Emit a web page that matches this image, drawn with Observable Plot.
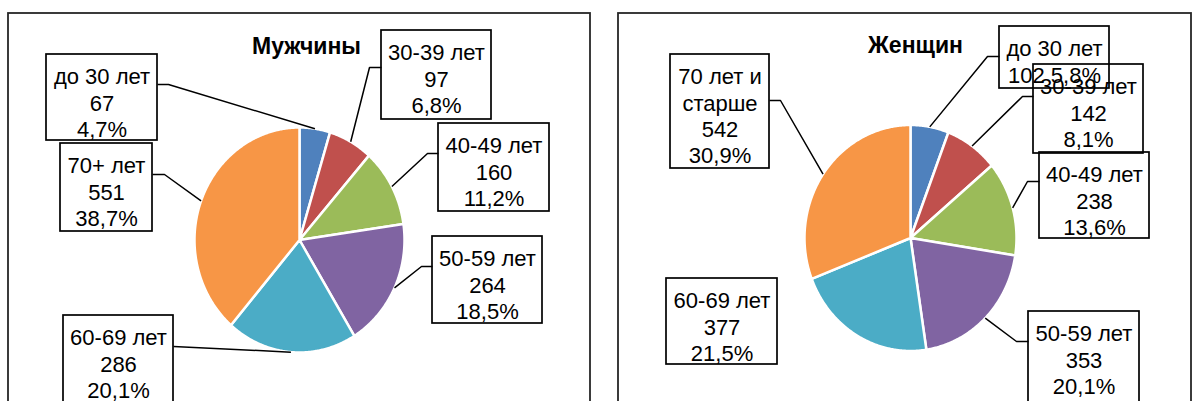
<!DOCTYPE html>
<html>
<head>
<meta charset="utf-8">
<script src="https://cdn.jsdelivr.net/npm/d3@7"></script>
<script src="https://cdn.jsdelivr.net/npm/@observablehq/plot@0.6"></script>
<style>
  html, body { margin: 0; padding: 0; background: #fff; }
  svg { display: block; }
</style>
</head>
<body>
<div id="chart"></div>
<script>
// Age groups and counts of patients, by sex
const menAgeGroups   = ["до 30 лет", "30-39 лет", "40-49 лет", "50-59 лет", "60-69 лет", "70+ лет"];
const womenAgeGroups = ["до 30 лет", "30-39 лет", "40-49 лет", "50-59 лет", "60-69 лет", "70 лет и старше"];
const menCounts   = [67, 97, 160, 264, 286, 551];
const womenCounts = [102, 142, 238, 353, 377, 542];
const panelTitles = ["Мужчины", "Женщин"];
const sliceColors = ["#4F81BD", "#C0504D", "#9BBB59", "#8064A2", "#4BACC6", "#F79646"];

// Layout of each panel: pie ellipse, label boxes [x1, y1, x2, y2],
// leader elbows [elbowX, y, boxSideX] and how each label is stacked
const menLayout = {
  cx: 299, cy: 239.5, rx: 105, ry: 112.5,
  titleX: 306, titleY: 46,
  frame: [8, 13, 590, 430],
  boxes: [[46, 54, 157, 140], [381, 30, 491, 119], [438, 123, 549, 211],
          [432, 236, 542, 323], [63, 315, 173, 420], [60, 143, 152, 231]],
  leaders: [[168, 84, 157], [369, 67, 381], [427, 153, 438],
            [421, 266, 432], [173, 346, 173], [164, 174, 152]],
  compact: [false, false, false, false, false, false]
};
const womenLayout = {
  cx: 910, cy: 237.5, rx: 106, ry: 113,
  titleX: 915, titleY: 45,
  frame: [618, 13, 1191, 430],
  boxes: [[999, 26, 1109, 88], [1033, 64, 1143, 153], [1039, 152, 1149, 238],
          [1028, 311, 1139, 420], [666, 278, 777, 364], [670, 54, 769, 168]],
  leaders: [[987, 56, 999], [1022, 96, 1033], [1027, 181, 1039],
            [1016, 341, 1028], null, [780, 100, 769]],
  compact: [true, false, false, false, false, false]
};

const fmtShare = (v, total) => (v / total * 100).toFixed(1).replace(".", ",") + "%";

// Greedy word wrap for long group names
function wrapName(name, maxChars = 9) {
  const words = name.split(" ");
  const lines = [];
  let cur = "";
  for (const w of words) {
    const next = cur ? cur + " " + w : w;
    if (next.length > maxChars && cur) { lines.push(cur); cur = w; }
    else cur = next;
  }
  if (cur) lines.push(cur);
  return lines.join("\n");
}

const slicePts = [], leaderPts = [], boxes = [], labels = [], titles = [], frames = [];

[[menAgeGroups, menCounts, menLayout], [womenAgeGroups, womenCounts, womenLayout]].forEach(([names, counts, L], p) => {
  const total = d3.sum(counts);
  const arcs = d3.pie().sort(null)(counts);
  const onEdge = a => ({x: L.cx + L.rx * Math.sin(a), y: L.cy - L.ry * Math.cos(a)});

  frames.push({x1: L.frame[0], y1: L.frame[1], x2: L.frame[2], y2: L.frame[3]});
  titles.push({x: L.titleX, y: L.titleY, text: panelTitles[p]});

  arcs.forEach((arc, i) => {
    const key = `${p}-${i}`;
    const steps = Math.max(2, Math.ceil((arc.endAngle - arc.startAngle) / (Math.PI / 360)));
    slicePts.push({key, group: i, x: L.cx, y: L.cy});
    for (let s = 0; s <= steps; s++) {
      const a = arc.startAngle + (arc.endAngle - arc.startAngle) * s / steps;
      slicePts.push({key, group: i, ...onEdge(a)});
    }
    slicePts.push({key, group: i, x: L.cx, y: L.cy});

    const ld = L.leaders[i];
    if (ld) {
      const mid = onEdge((arc.startAngle + arc.endAngle) / 2);
      leaderPts.push({key, ...mid});
      leaderPts.push({key, x: ld[0], y: ld[1]});
      leaderPts.push({key, x: ld[2], y: ld[1]});
    }

    const b = L.boxes[i];
    boxes.push({x1: b[0], y1: b[1], x2: b[2], y2: b[3]});
    const share = fmtShare(counts[i], total);
    const text = L.compact[i]
      ? `${wrapName(names[i])}\n${counts[i]} ${share}`
      : `${wrapName(names[i])}\n${counts[i]}\n${share}`;
    labels.push({x: (b[0] + b[2]) / 2, y: b[1] + 11, text});
  });
});

const font = "'Liberation Sans', Arial, sans-serif";

const chart = Plot.plot({
  width: 1192,
  height: 401,
  margin: 0,
  x: {domain: [0, 1192], range: [0, 1192], axis: null},
  y: {domain: [0, 401], range: [0, 401], axis: null},
  color: {type: "ordinal", domain: d3.range(6), range: sliceColors},
  style: {background: "#fff", fontFamily: font, color: "#000"},
  marks: [
    Plot.rect(frames, {x1: "x1", y1: "y1", x2: "x2", y2: "y2", fill: "none", stroke: "#262626", strokeWidth: 1.8}),
    Plot.line(slicePts, {x: "x", y: "y", z: "key", fill: "group", stroke: "#fff", strokeWidth: 2.5,
      strokeLinejoin: "round", curve: "linear"}),
    Plot.line(leaderPts, {x: "x", y: "y", z: "key", stroke: "#000", strokeWidth: 1.5,
      strokeLinejoin: "miter", strokeLinecap: "butt"}),
    Plot.rect(boxes, {x1: "x1", y1: "y1", x2: "x2", y2: "y2", fill: "none", stroke: "#000", strokeWidth: 1.7}),
    Plot.text(labels, {x: "x", y: "y", text: "text", fontSize: 22, lineHeight: 1.2,
      lineAnchor: "top", textAnchor: "middle", fill: "#000", fontFamily: font}),
    Plot.text(titles, {x: "x", y: "y", text: "text", fontSize: 23, fontWeight: "bold",
      textAnchor: "middle", fill: "#000", fontFamily: font})
  ]
});

document.getElementById("chart").appendChild(chart);
</script>
</body>
</html>
